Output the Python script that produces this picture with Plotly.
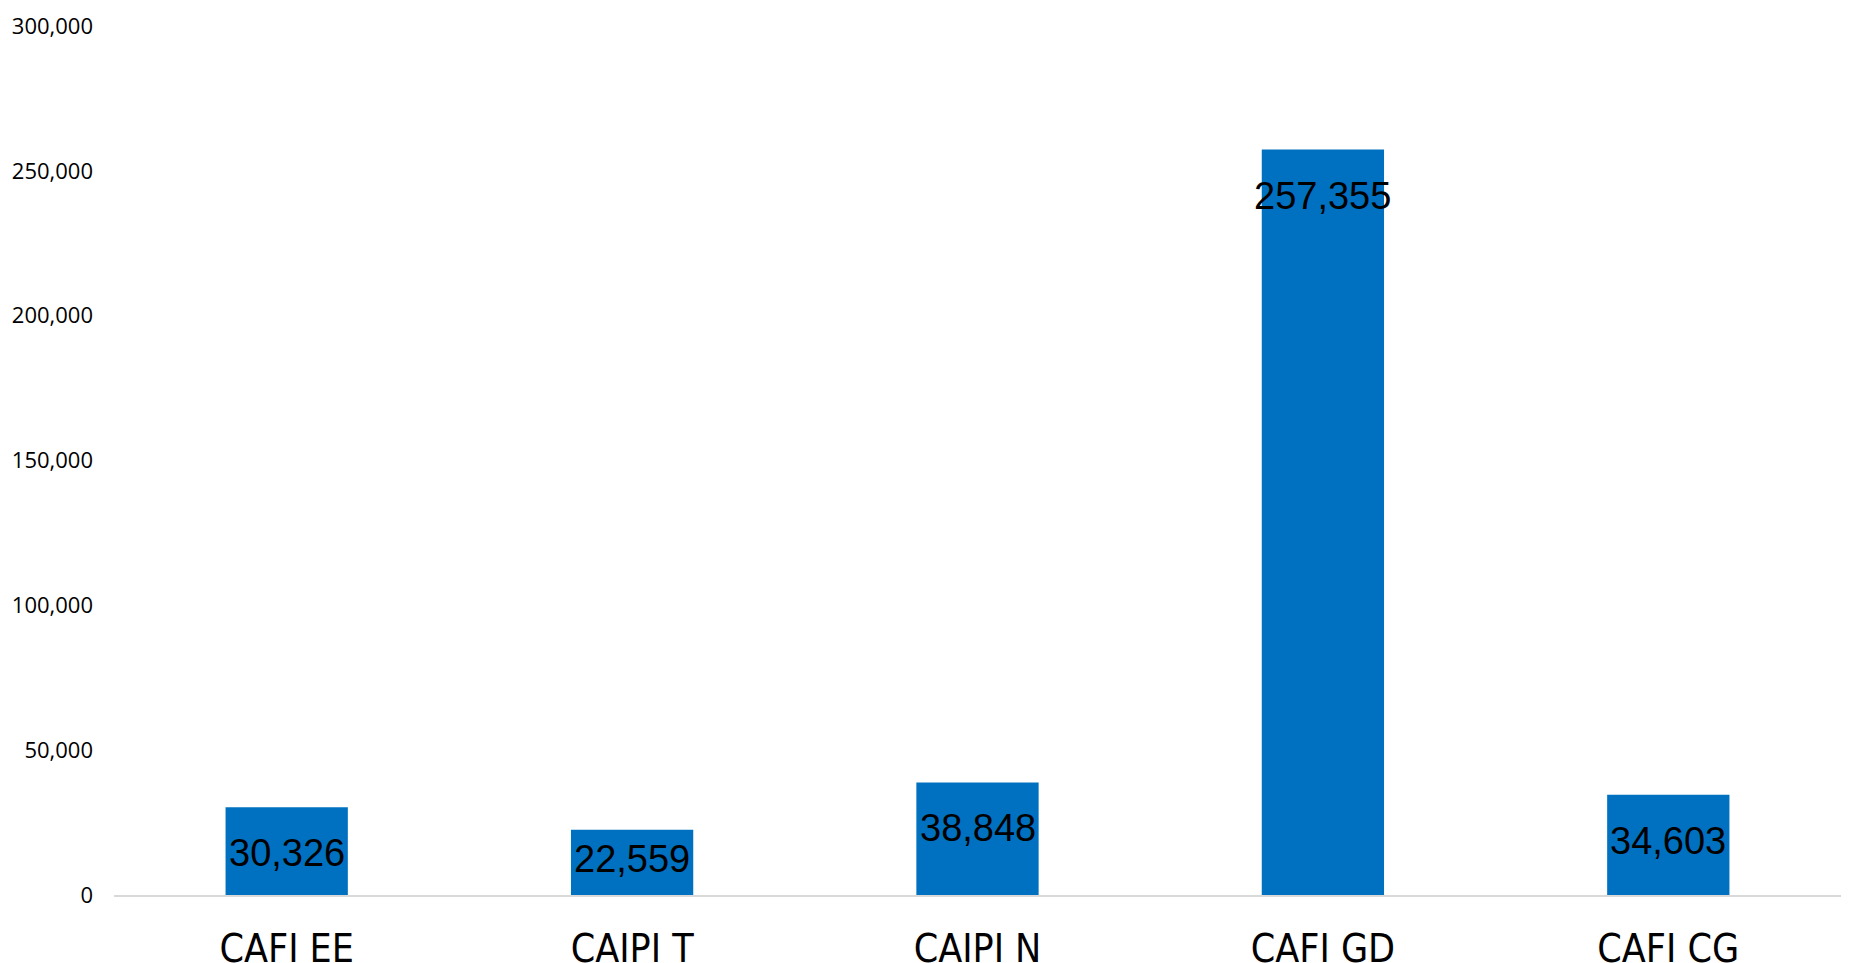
import plotly.graph_objects as go

categories = ["CAFI EE", "CAIPI T", "CAIPI N", "CAFI GD", "CAFI CG"]
values = [30326, 22559, 38848, 257355, 34603]
y_tickvals = [0, 50000, 100000, 150000, 200000, 250000, 300000]
y_ticktext = ["0", "50,000", "100,000", "150,000", "200,000", "250,000", "300,000"]

Y_MAX = 300000
PLOT_H = 869  # px height of plotting area
units_per_px = Y_MAX / PLOT_H

fig = go.Figure()
fig.add_trace(go.Bar(
    x=categories,
    y=values,
    marker=dict(color="#0070C0", line=dict(width=0)),
    width=0.354,
    hoverinfo="x+y",
))

# data labels, placed inside near the bar end (Excel "inside end" style)
for c, v in zip(categories, values):
    yc = max(v - 46 * units_per_px, 36 * units_per_px)
    fig.add_annotation(
        x=c, y=yc, xref="x", yref="y",
        text=f"{v:,}", showarrow=False,
        yanchor="middle", xanchor="center",
        font=dict(family="Liberation Sans, Arial, sans-serif", size=38, color="#000000"),
    )

fig.update_layout(
    width=1851, height=963,
    paper_bgcolor="white", plot_bgcolor="white",
    margin=dict(l=114, r=10, t=26, b=68),
    showlegend=False,
    bargap=0.646,
)
fig.update_xaxes(
    automargin=False,
    showgrid=False, showline=True, linecolor="#D9D9D9", linewidth=2,
    ticks="", tickfont=dict(family="DejaVu Sans Condensed, Liberation Sans, sans-serif", size=39, color="#000000"),
    ticklabelstandoff=18,
)
fig.update_yaxes(
    automargin=False,
    range=[0, Y_MAX], showgrid=False, zeroline=False, showline=False,
    tickvals=y_tickvals, ticktext=y_ticktext, ticks="",
    tickfont=dict(family="Open Sans, sans-serif", size=22, color="#000000"),
    ticklabelstandoff=20,
)

fig.write_html(
    "out.html",
    config={"displayModeBar": False},
    post_script="document.body.style.margin='0';document.body.style.overflow='hidden';",
)
